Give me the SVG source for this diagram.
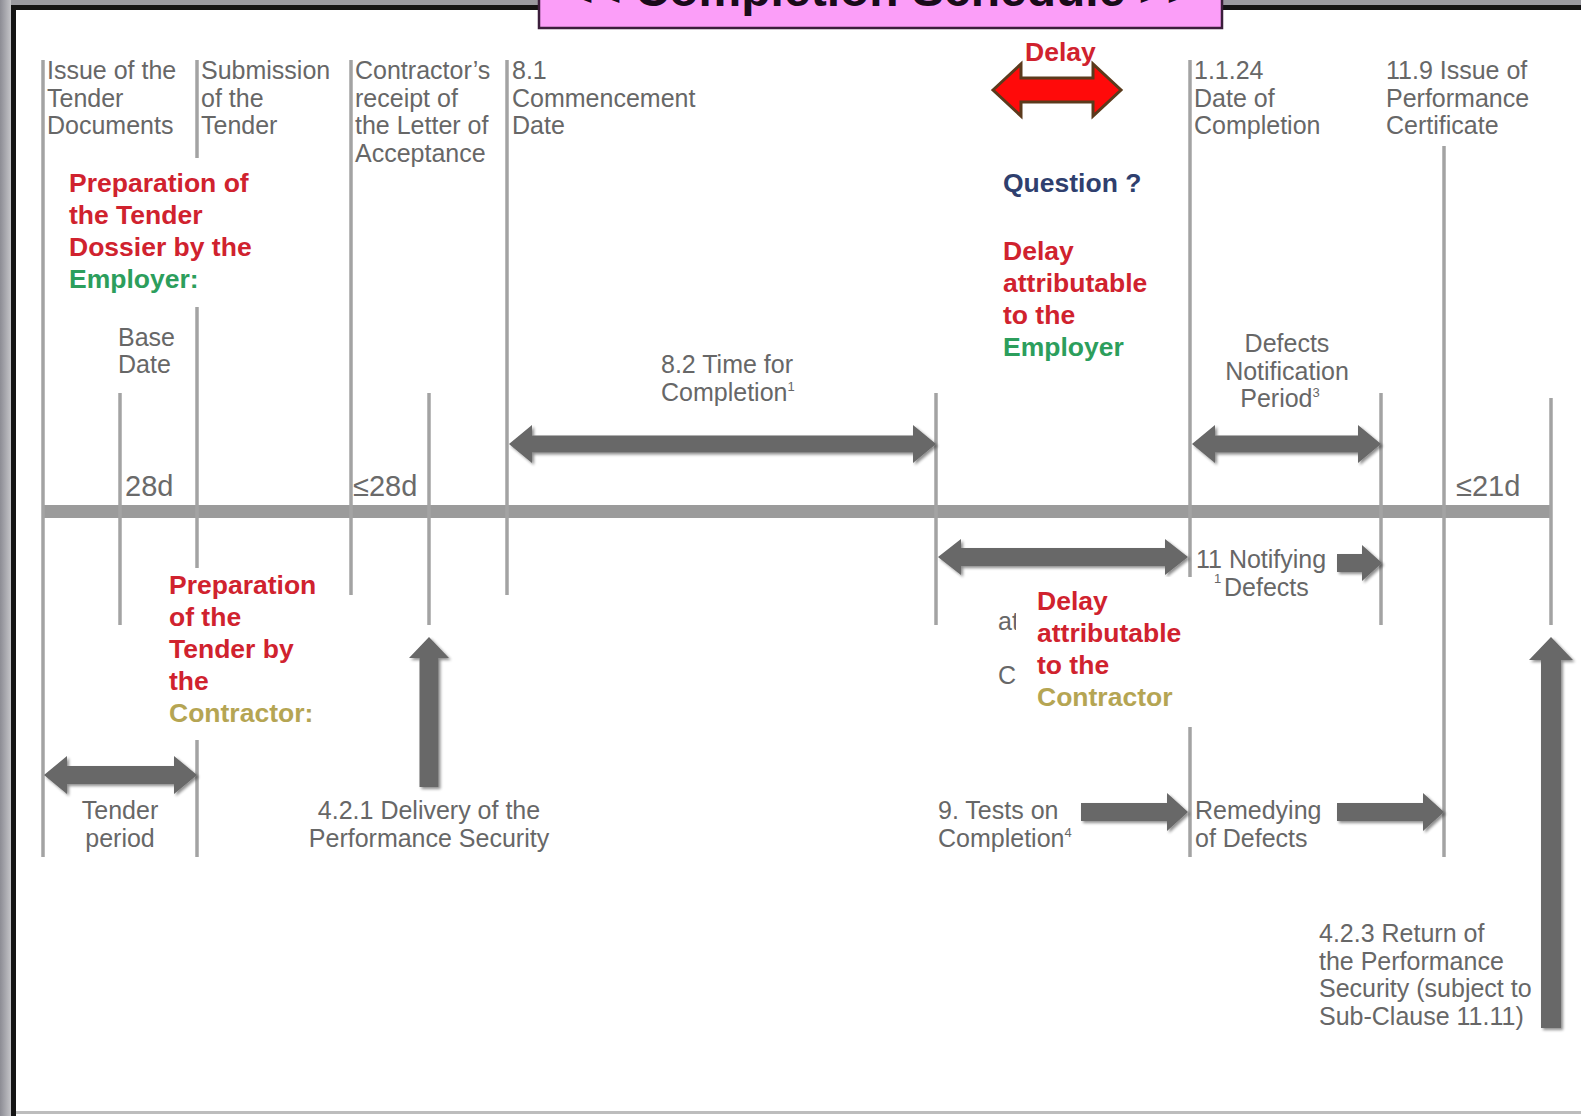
<svg xmlns="http://www.w3.org/2000/svg" width="1581" height="1116" viewBox="0 0 1581 1116">
<defs>
<linearGradient id="lg" x1="0" y1="0" x2="1" y2="0"><stop offset="0" stop-color="#8c8c94"/><stop offset="1" stop-color="#c4c4c8"/></linearGradient>
<filter id="sh" x="-10%" y="-30%" width="120%" height="160%"><feGaussianBlur in="SourceAlpha" stdDeviation="1.5"/><feOffset dx="1.5" dy="2" result="o"/><feComponentTransfer><feFuncA type="linear" slope="0.45"/></feComponentTransfer><feMerge><feMergeNode/><feMergeNode in="SourceGraphic"/></feMerge></filter>
</defs>
<style>
.g{font-family:"Liberation Sans",Arial,sans-serif;font-size:25px;fill:#676767}
.d{font-family:"Liberation Sans",Arial,sans-serif;font-size:29px;fill:#6a6a6a}
.b{font-family:"Liberation Sans",Arial,sans-serif;font-size:26.5px;font-weight:bold}
.r{fill:#d0222e}.gr{fill:#2c9e5c}.ol{fill:#b5a553}.nv{fill:#2f3f6e}
.ln{stroke:#a3a3a3;stroke-width:3.5;fill:none}
.ar{fill:#676767;filter:url(#sh)}
.sup{font-size:13px}
</style>
<rect width="1581" height="1116" fill="#ffffff"/>
<rect x="0" y="0" width="1581" height="6" fill="#9a9aa0"/>
<rect x="0" y="5" width="1581" height="5" fill="#141414"/>
<rect x="0" y="0" width="11" height="1116" fill="url(#lg)"/>
<rect x="11" y="5" width="5" height="1111" fill="#141414"/>
<rect x="16" y="1111" width="1565" height="3" fill="#bdbdbd"/>

<g id="title">
<rect x="539" y="-6" width="683" height="34" fill="#fb9ef8" stroke="#3b1e3b" stroke-width="2.5"/>
<text x="880" y="6" text-anchor="middle" font-family="Liberation Sans,Arial,sans-serif" font-size="48" font-weight="bold" fill="#1a0a1a">&lt;&lt; Completion Schedule &gt;&gt;</text>
</g>

<g id="connectors">
<rect x="42" y="505" width="1509" height="13" fill="#9b9b9b"/>
<line class="ln" x1="43" y1="60" x2="43" y2="857"/>
<line class="ln" x1="120" y1="393" x2="120" y2="625"/>
<line class="ln" x1="197" y1="60" x2="197" y2="857"/>
<line class="ln" x1="351" y1="60" x2="351" y2="595"/>
<line class="ln" x1="429" y1="393" x2="429" y2="625"/>
<line class="ln" x1="507" y1="60" x2="507" y2="595"/>
<line class="ln" x1="936" y1="393" x2="936" y2="625"/>
<line class="ln" x1="1190" y1="60" x2="1190" y2="857"/>
<line class="ln" x1="1381" y1="393" x2="1381" y2="625"/>
<line class="ln" x1="1444" y1="146" x2="1444" y2="857"/>
<line class="ln" x1="1551" y1="398" x2="1551" y2="625"/>

<path class="ar" d="M509 444 L532 425 L532 435.5 L913 435.5 L913 425 L936 444 L913 463 L913 452.5 L532 452.5 L532 463 Z"/>
<path class="ar" d="M1192 444 L1215 425 L1215 435.5 L1358 435.5 L1358 425 L1381 444 L1358 463 L1358 452.5 L1215 452.5 L1215 463 Z"/>
<path class="ar" d="M938 557 L961 539 L961 548 L1165 548 L1165 539 L1188 557 L1165 575 L1165 566 L961 566 L961 575 Z"/>
<path class="ar" d="M44 775 L67 756 L67 766 L174 766 L174 756 L197 775 L174 794 L174 784 L67 784 L67 794 Z"/>
<path class="ar" d="M1337 554 L1362 554 L1362 545 L1382 563 L1362 581 L1362 572 L1337 572 Z"/>
<path class="ar" d="M1081 803 L1167 803 L1167 793 L1188 812 L1167 831 L1167 821 L1081 821 Z"/>
<path class="ar" d="M1337 803 L1423 803 L1423 793 L1444 812 L1423 831 L1423 821 L1337 821 Z"/>
<path class="ar" d="M429 637 L449 658 L438.5 658 L438.5 787 L419.5 787 L419.5 658 L409 658 Z"/>
<path class="ar" d="M1551 637 L1573 660 L1561 660 L1561 1028 L1541 1028 L1541 660 L1529 660 Z"/>
<path d="M993 90 L1021 64 L1021 78 L1093 78 L1093 64 L1121 90 L1093 116 L1093 102 L1021 102 L1021 116 Z" fill="#ff0a0a" stroke="#5b3a1c" stroke-width="3" stroke-linejoin="miter"/>
</g>

<g id="issue"><text class="g" x="47" y="79">Issue of the<tspan x="47" dy="27.5">Tender</tspan><tspan x="47" dy="27.5">Documents</tspan></text></g>
<g id="submission"><text class="g" x="201" y="79">Submission<tspan x="201" dy="27.5">of the</tspan><tspan x="201" dy="27.5">Tender</tspan></text></g>
<g id="contractor-receipt"><text class="g" x="355" y="79">Contractor’s<tspan x="355" dy="27.5">receipt of</tspan><tspan x="355" dy="27.5">the Letter of</tspan><tspan x="355" dy="27.5">Acceptance</tspan></text></g>
<g id="commencement"><text class="g" x="512" y="79">8.1<tspan x="512" dy="27.5">Commencement</tspan><tspan x="512" dy="27.5">Date</tspan></text></g>
<g id="completion-date"><text class="g" x="1194" y="79">1.1.24<tspan x="1194" dy="27.5">Date of</tspan><tspan x="1194" dy="27.5">Completion</tspan></text></g>
<g id="performance-cert"><text class="g" x="1386" y="79">11.9 Issue of<tspan x="1386" dy="27.5">Performance</tspan><tspan x="1386" dy="27.5">Certificate</tspan></text></g>
<g id="base-date"><text class="g" x="118" y="346">Base<tspan x="118" dy="26.5">Date</tspan></text></g>
<g id="d28"><text class="d" x="125" y="496">28d</text></g>
<g id="le28"><text class="d" x="353" y="496">≤28d</text></g>
<g id="le21"><text class="d" x="1456" y="496">≤21d</text></g>
<g id="time-for-completion"><text class="g" x="661" y="373">8.2 Time for<tspan x="661" dy="27.5">Completion</tspan><tspan class="sup" dy="-10">1</tspan></text></g>
<g id="dnp"><text class="g" text-anchor="middle" x="1287" y="352">Defects<tspan x="1287" dy="27.5">Notification</tspan><tspan x="1280" dy="27.5">Period</tspan><tspan class="sup" dy="-10">3</tspan></text></g>
<g id="notifying"><text class="g" x="1196" y="568">11 Notifying</text><text class="g" x="1224" y="596">Defects</text><text class="g sup" x="1214" y="583">1</text></g>
<g id="tender-period"><text class="g" text-anchor="middle" x="120" y="819">Tender<tspan x="120" dy="27.5">period</tspan></text></g>
<g id="delivery"><text class="g" text-anchor="middle" x="429" y="819">4.2.1 Delivery of the<tspan x="429" dy="27.5">Performance Security</tspan></text></g>
<g id="tests"><text class="g" x="938" y="819">9. Tests on<tspan x="938" dy="27.5">Completion</tspan><tspan class="sup" dy="-10">4</tspan></text></g>
<g id="remedying"><text class="g" x="1195" y="819">Remedying<tspan x="1195" dy="27.5">of Defects</tspan></text></g>
<g id="return"><text class="g" x="1319" y="942">4.2.3 Return of<tspan x="1319" dy="27.5">the Performance</tspan><tspan x="1319" dy="27.5">Security (subject to</tspan><tspan x="1319" dy="27.5">Sub-Clause 11.11)</tspan></text></g>

<g id="prep-employer">
<rect x="62" y="158" width="198" height="149" fill="#ffffff"/>
<text class="b r" x="69" y="192">Preparation of<tspan x="69" dy="32">the Tender</tspan><tspan x="69" dy="32">Dossier  by the</tspan><tspan class="gr" x="69" dy="32">Employer:</tspan></text>
</g>
<g id="prep-contractor">
<rect x="160" y="568" width="165" height="172" fill="#ffffff"/>
<text class="b r" x="169" y="594">Preparation<tspan x="169" dy="32">of the</tspan><tspan x="169" dy="32">Tender by</tspan><tspan x="169" dy="32">the</tspan><tspan class="ol" x="169" dy="32">Contractor:</tspan></text>
</g>
<g id="delay-top"><text class="b r" x="1025" y="61">Delay</text></g>
<g id="question"><text class="b nv" x="1003" y="192">Question ?</text></g>
<g id="delay-employer"><text class="b r" x="1003" y="260">Delay<tspan x="1003" dy="32">attributable</tspan><tspan x="1003" dy="32">to the</tspan><tspan class="gr" x="1003" dy="32">Employer</tspan></text></g>
<g id="delay-contractor">
<text class="g" x="998" y="630">at</text>
<text class="g" x="998" y="684">C</text>
<rect x="1016" y="577" width="178" height="150" fill="#ffffff"/>
<text class="b r" x="1037" y="610">Delay<tspan x="1037" dy="32">attributable</tspan><tspan x="1037" dy="32">to the</tspan><tspan class="ol" x="1037" dy="32">Contractor</tspan></text>
</g>
</svg>
